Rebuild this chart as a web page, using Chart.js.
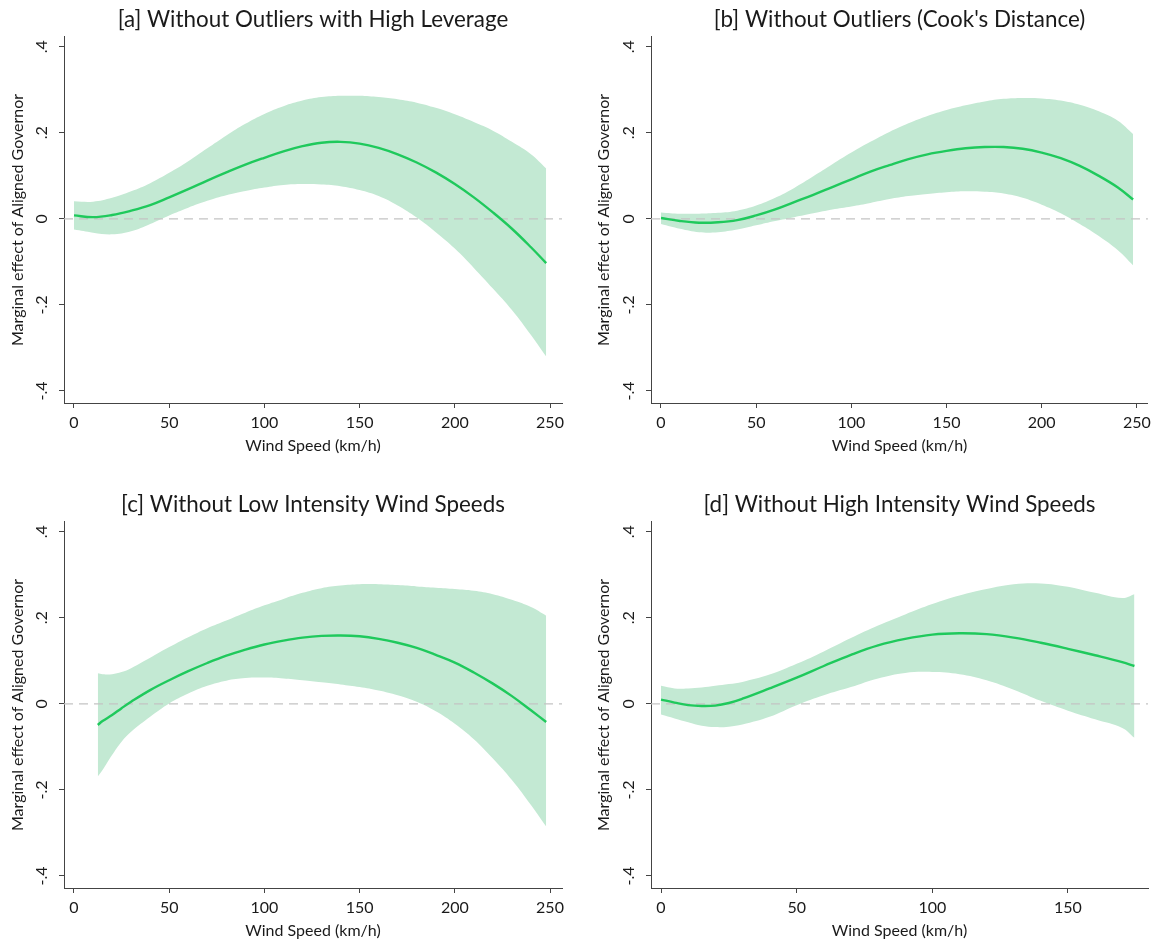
<!DOCTYPE html>
<html>
<head>
<meta charset="utf-8">
<script src="https://cdn.jsdelivr.net/npm/chart.js@4.4.1/dist/chart.umd.min.js"></script>
<style>
  body { margin: 0; background: #fff; width: 1156px; height: 941px; position: relative; overflow: hidden; }
  canvas { position: absolute; }
</style>
</head>
<body>
<canvas id="pa" width="578" height="456" style="left:0px;top:0px"></canvas>
<canvas id="pb" width="570" height="456" style="left:586px;top:0px"></canvas>
<canvas id="pc" width="578" height="456" style="left:0px;top:485px"></canvas>
<canvas id="pd" width="570" height="456" style="left:586px;top:485px"></canvas>
<script>
// ---- data ----
const titles = [
    "[a] Without Outliers with High Leverage",
    "[b] Without Outliers (Cook's Distance)",
    "[c] Without Low Intensity Wind Speeds",
    "[d] Without High Intensity Wind Speeds"
];
const xTitle = "Wind Speed (km/h)";
const yTitle = "Marginal effect of Aligned Governor";
const yTicks = [-0.4, -0.2, 0, 0.2, 0.4];
const xTicksWide = [0, 50, 100, 150, 200, 250];
const xTicksNarrow = [0, 50, 100, 150];

// [a]
const xA = [0, 10, 20, 30, 40, 50, 60, 70, 80, 90, 100, 110, 120, 130, 140, 150, 160, 170, 180, 190, 200, 210, 220, 230, 240, 248];
const lineA = [0.008, 0.004, 0.009, 0.019, 0.032, 0.050, 0.069, 0.089, 0.108, 0.126, 0.142, 0.157, 0.169, 0.177, 0.179, 0.175, 0.165, 0.150, 0.131, 0.108, 0.081, 0.050, 0.015, -0.023, -0.066, -0.103];
const upA = [0.041, 0.040, 0.049, 0.064, 0.083, 0.107, 0.134, 0.164, 0.194, 0.221, 0.244, 0.262, 0.275, 0.283, 0.286, 0.286, 0.283, 0.278, 0.270, 0.258, 0.243, 0.225, 0.205, 0.179, 0.150, 0.117];
const loA = [-0.025, -0.032, -0.036, -0.029, -0.012, 0.008, 0.026, 0.042, 0.055, 0.065, 0.073, 0.079, 0.081, 0.080, 0.076, 0.067, 0.053, 0.031, 0.003, -0.031, -0.069, -0.114, -0.162, -0.212, -0.270, -0.320];

// [b]
const xB = xA;
const lineB = [0.002, -0.005, -0.009, -0.008, -0.003, 0.008, 0.022, 0.039, 0.056, 0.074, 0.092, 0.110, 0.125, 0.139, 0.150, 0.158, 0.164, 0.167, 0.167, 0.163, 0.154, 0.141, 0.123, 0.100, 0.073, 0.045];
const upB = [0.015, 0.012, 0.012, 0.014, 0.019, 0.031, 0.049, 0.072, 0.099, 0.127, 0.154, 0.179, 0.202, 0.222, 0.239, 0.253, 0.264, 0.273, 0.279, 0.281, 0.280, 0.275, 0.265, 0.250, 0.228, 0.197];
const loB = [-0.012, -0.023, -0.031, -0.031, -0.025, -0.015, -0.005, 0.004, 0.013, 0.022, 0.029, 0.037, 0.046, 0.053, 0.058, 0.062, 0.064, 0.063, 0.059, 0.049, 0.033, 0.013, -0.012, -0.040, -0.073, -0.108];

// [c]
const xC = [12.5, 15, 20, 25, 30, 40, 50, 60, 70, 80, 90, 100, 110, 120, 130, 140, 150, 160, 170, 180, 190, 200, 210, 220, 230, 240, 248];
const lineC = [-0.049, -0.040, -0.026, -0.010, 0.005, 0.032, 0.055, 0.076, 0.095, 0.112, 0.126, 0.138, 0.147, 0.154, 0.158, 0.159, 0.157, 0.151, 0.142, 0.130, 0.114, 0.096, 0.073, 0.047, 0.018, -0.015, -0.042];
const upC = [0.071, 0.069, 0.069, 0.074, 0.083, 0.107, 0.132, 0.155, 0.176, 0.194, 0.212, 0.229, 0.244, 0.258, 0.269, 0.275, 0.278, 0.278, 0.276, 0.273, 0.270, 0.267, 0.263, 0.255, 0.242, 0.225, 0.205];
const loC = [-0.169, -0.154, -0.119, -0.088, -0.065, -0.030, 0.001, 0.024, 0.042, 0.054, 0.060, 0.061, 0.059, 0.055, 0.050, 0.045, 0.039, 0.031, 0.020, 0.005, -0.017, -0.046, -0.082, -0.127, -0.177, -0.235, -0.285];

// [d]
const xD = [0, 5, 10, 15, 20, 25, 30, 40, 50, 60, 70, 80, 90, 100, 110, 120, 130, 140, 150, 160, 170, 174.5];
const lineD = [0.010, 0.003, -0.003, -0.005, -0.004, 0.002, 0.012, 0.036, 0.061, 0.088, 0.114, 0.136, 0.151, 0.161, 0.164, 0.162, 0.154, 0.142, 0.128, 0.113, 0.097, 0.088];
const upD = [0.042, 0.036, 0.036, 0.038, 0.042, 0.046, 0.051, 0.068, 0.093, 0.122, 0.153, 0.182, 0.208, 0.232, 0.252, 0.267, 0.278, 0.280, 0.272, 0.258, 0.246, 0.255];
const loD = [-0.025, -0.034, -0.043, -0.051, -0.054, -0.053, -0.048, -0.030, -0.003, 0.020, 0.039, 0.059, 0.072, 0.074, 0.069, 0.055, 0.033, 0.007, -0.016, -0.036, -0.056, -0.079];

// ---- styling ----
const FONT = "Lato, 'Open Sans', sans-serif";
const LINE_COLOR = "#1fc95c";
const BAND_COLOR = "#c3e9d3";
const AXIS_COLOR = "#444";
const TEXT_COLOR = "#1a1a1a";

function pts(xs, ys) {
    return xs.map((x, i) => ({ x, y: ys[i] }));
}

function fmtY(v) {
    if (v === 0) return "0";
    const s = String(Math.abs(v)).replace(/^0/, "");
    return (v < 0 ? "-" : "") + s;
}

function makePanel(id, p) {
    const ctx = document.getElementById(id).getContext("2d");
    return new Chart(ctx, {
        type: "line",
        data: {
            datasets: [
                { data: pts(p.x, p.line), borderColor: LINE_COLOR, borderWidth: 2.4, pointRadius: 0,
                  tension: 0.4, fill: false, order: 0 },
                { data: [{ x: p.xMin, y: 0 }, { x: p.xMax, y: 0 }], borderColor: "#c4c4c4", borderWidth: 1.2,
                  borderDash: [9, 6], pointRadius: 0, fill: false, order: 1 },
                { data: pts(p.x, p.up), borderWidth: 0, borderColor: "rgba(0,0,0,0)", backgroundColor: BAND_COLOR,
                  pointRadius: 0, tension: 0.4, fill: "+1", order: 2 },
                { data: pts(p.x, p.lo), borderWidth: 0, borderColor: "rgba(0,0,0,0)", pointRadius: 0,
                  tension: 0.4, fill: false, order: 3 }
            ]
        },
        options: {
            responsive: false,
            animation: false,
            devicePixelRatio: 1,
            layout: { padding: { left: 0, right: p.padRight, top: 0, bottom: 0 } },
            plugins: {
                legend: { display: false },
                tooltip: { enabled: false },
                title: {
                    display: true,
                    text: p.title,
                    fullSize: false,
                    color: TEXT_COLOR,
                    font: { family: FONT, size: 22.4, weight: "normal" },
                    padding: { top: 6, bottom: 4 }
                }
            },
            scales: {
                x: {
                    type: "linear",
                    min: p.xMin,
                    max: p.xMax,
                    afterBuildTicks: s => { s.ticks = p.xTicks.map(v => ({ value: v })); },
                    afterFit: s => { s.height = 53; },
                    border: { display: true, color: AXIS_COLOR, width: 1 },
                    grid: { drawOnChartArea: false, drawTicks: true, tickLength: 5, color: AXIS_COLOR },
                    ticks: { color: TEXT_COLOR, font: { family: FONT, size: 16 }, padding: 5,
                             maxRotation: 0, autoSkip: false },
                    title: { display: true, text: xTitle, color: TEXT_COLOR,
                             font: { family: FONT, size: 16 }, padding: { top: 0, bottom: 1 } }
                },
                y: {
                    type: "linear",
                    min: -0.428,
                    max: 0.423,
                    afterBuildTicks: s => { s.ticks = yTicks.map(v => ({ value: v })); },
                    afterFit: s => { s.width = p.yWidth; },
                    border: { display: true, color: AXIS_COLOR, width: 1 },
                    grid: { drawOnChartArea: false, drawTicks: true, tickLength: 5, color: AXIS_COLOR },
                    ticks: { color: TEXT_COLOR, font: { family: FONT, size: 16 }, padding: 8,
                             minRotation: 90, maxRotation: 90, crossAlign: "center",
                             callback: v => fmtY(v) },
                    title: { display: true, text: yTitle, color: TEXT_COLOR,
                             font: { family: FONT, size: 16 }, padding: { top: 8, bottom: 0 } }
                }
            }
        }
    });
}

makePanel("pa", { title: titles[0], x: xA, line: lineA, up: upA, lo: loA,
    xMin: -5.25, xMax: 256.3, xTicks: xTicksWide, padRight: 16, yWidth: 64 });
makePanel("pb", { title: titles[1], x: xB, line: lineB, up: upB, lo: loB,
    xMin: -5.25, xMax: 255.8, xTicks: xTicksWide, padRight: 8, yWidth: 65 });
makePanel("pc", { title: titles[2], x: xC, line: lineC, up: upC, lo: loC,
    xMin: -5.25, xMax: 256.3, xTicks: xTicksWide, padRight: 16, yWidth: 64 });
makePanel("pd", { title: titles[3], x: xD, line: lineD, up: upD, lo: loD,
    xMin: -3.69, xMax: 179.5, xTicks: xTicksNarrow, padRight: 8, yWidth: 65 });
</script>
</body>
</html>
